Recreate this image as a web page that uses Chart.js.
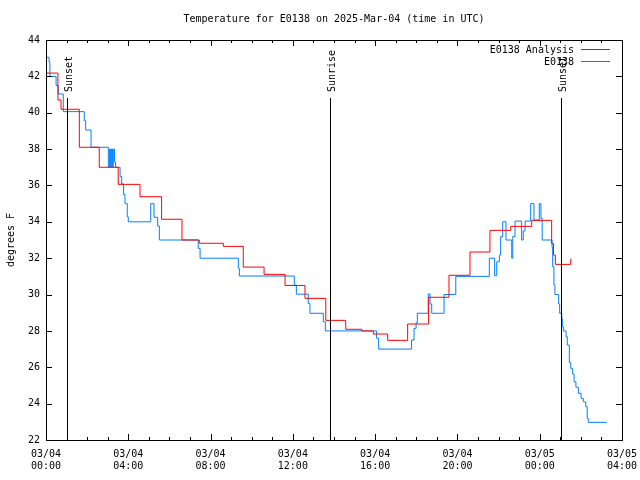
<!DOCTYPE html>
<html>
<head>
<meta charset="utf-8">
<script src="https://cdn.jsdelivr.net/npm/chart.js@4.4.1/dist/chart.umd.min.js"></script>
<style>
  body { margin: 0; background: #fff; }
  canvas { display: block; }
</style>
</head>
<body>
<canvas id="tempChart" width="640" height="480"></canvas>
<script>
// hours since 2025-03-04 00:00 UTC
const analysisHours = [0, 0.58, 0.73, 1.62, 2.59, 3.51, 4.57, 5.62, 6.61, 7.45, 8.62, 9.59, 10.60, 11.62, 12.59,
  13.60, 14.57, 15.35, 15.91, 16.61, 17.58, 18.60, 19.59, 20.61, 21.58, 22.59, 23.61, 24.58, 24.67, 24.76, 25.51, 25.55];
const analysisTemps = [42.18, 40.7, 40.19, 38.1, 37.0, 36.06, 35.38, 34.14, 33.0, 32.82, 32.65, 31.51, 31.11, 30.5, 29.79,
  28.58, 28.09, 28.0, 27.83, 27.48, 28.38, 29.85, 31.06, 32.34, 33.53, 33.75, 34.08, 32.8, 32.17, 31.66, 31.94, 31.94];

const obsHours = [0, 0.15, 0.19, 0.49, 0.60, 0.84, 1.86, 1.93, 2.19, 3.03, 3.09, 3.14, 3.18, 3.23, 3.27,
  3.33, 3.38, 3.60, 3.68, 3.77, 3.84, 3.95, 4.00, 5.09, 5.25, 5.43, 5.51, 7.40, 7.49, 9.35,
  9.40, 12.07, 12.17, 12.75, 12.83, 13.48, 13.58, 16.07, 16.17, 17.77, 17.89, 17.99, 18.05, 18.58, 18.67,
  18.75, 19.35, 19.92, 21.55, 21.81, 21.91, 22.04, 22.10, 22.20, 22.36, 22.64, 22.69, 22.80, 23.12, 23.20,
  23.29, 23.56, 23.72, 23.98, 24.06, 24.12, 24.60, 24.63, 24.69, 24.74, 24.92, 24.97, 25.07, 25.10, 25.15,
  25.28, 25.34, 25.44, 25.51, 25.60, 25.67, 25.76, 25.88, 26.01, 26.12, 26.24, 26.31, 26.36, 27.26];
const obsTemps = [43.05, 42.77, 42.0, 41.5, 41.03, 40.06, 39.56, 39.05, 38.1, 37.0, 38.0, 37.0, 38.0, 37.0, 38.0,
  37.3, 37.0, 36.5, 36.08, 35.5, 35.0, 34.28, 34.0, 35.0, 34.25, 33.77, 33.0, 32.54, 32.0, 31.44,
  31.02, 30.52, 30.02, 29.5, 28.97, 28.5, 28.0, 27.6, 27.0, 27.5, 28.14, 28.45, 28.97, 30.03, 29.48,
  28.97, 30.0, 31.0, 32.0, 31.04, 31.8, 32.17, 33.18, 34.0, 33.0, 32.0, 33.2, 34.04, 33.0, 33.5,
  34.04, 35.0, 34.1, 35.0, 34.19, 33.0, 32.6, 31.53, 30.52, 30.0, 29.48, 28.97, 28.69, 28.23, 28.0,
  27.68, 27.22, 26.25, 25.94, 25.63, 25.2, 24.9, 24.57, 24.29, 24.1, 23.83, 23.19, 22.97, 22.97];

const eventNames = ["Sunset", "Sunrise", "Sunset"];
const eventHours = [1.02, 13.8, 25.04];

const seriesNames = ["E0138 Analysis", "E0138"];
const seriesColors = ["#ff0000", "#0080ff"];

const FONT = "DejaVu Sans Mono";

function pts(xs, ys) {
  return xs.map((x, i) => ({ x: x, y: ys[i] }));
}

// frame, inward ticks, title, legend, sun lines - gnuplot look
const gnuplotBits = {
  id: "gnuplotBits",
  afterDraw(chart) {
    const ctx = chart.ctx;
    const a = chart.chartArea;
    const xs = chart.scales.x, ys = chart.scales.y;
    ctx.save();
    ctx.strokeStyle = "#000";
    ctx.fillStyle = "#000";
    ctx.lineWidth = 1;

    // ticks
    ctx.beginPath();
    for (let v = 22; v <= 44; v += 2) {
      const y = Math.round(ys.getPixelForValue(v)) + 0.5;
      ctx.moveTo(a.left, y); ctx.lineTo(a.left + 6, y);
      ctx.moveTo(a.right, y); ctx.lineTo(a.right - 6, y);
    }
    for (let h = 0; h <= 28; h++) {
      const x = Math.round(xs.getPixelForValue(h)) + 0.5;
      const len = h % 4 === 0 ? 6 : 3;
      ctx.moveTo(x, a.bottom); ctx.lineTo(x, a.bottom - len);
      ctx.moveTo(x, a.top); ctx.lineTo(x, a.top + len);
    }
    ctx.stroke();

    // frame
    ctx.strokeRect(a.left + 0.5, a.top + 0.5, a.right - a.left, a.bottom - a.top);

    // sunset / sunrise
    ctx.font = "10px '" + FONT + "'";
    eventHours.forEach((h, i) => {
      const x = Math.round(xs.getPixelForValue(h)) + 0.5;
      ctx.beginPath();
      ctx.moveTo(x, a.top + 58);
      ctx.lineTo(x, a.bottom);
      ctx.stroke();
      ctx.save();
      ctx.translate(x + 1.5, a.top + 52);
      ctx.rotate(-Math.PI / 2);
      ctx.textAlign = "left";
      ctx.textBaseline = "middle";
      ctx.fillText(eventNames[i], 0, 0);
      ctx.restore();
    });

    // title
    ctx.textAlign = "center";
    ctx.textBaseline = "middle";
    ctx.fillText("Temperature for E0138 on 2025-Mar-04 (time in UTC)", (a.left + a.right) / 2, 19);

    // y title
    ctx.save();
    ctx.translate(11, (a.top + a.bottom) / 2);
    ctx.rotate(-Math.PI / 2);
    ctx.fillText("degrees F", 0, 0);
    ctx.restore();

    // legend
    ctx.textAlign = "right";
    seriesNames.forEach((name, i) => {
      const y = 50 + i * 12;
      ctx.fillStyle = "#000";
      ctx.fillText(name, 574, y);
      ctx.strokeStyle = seriesColors[i];
      ctx.beginPath();
      ctx.moveTo(581, y - 0.5);
      ctx.lineTo(610, y - 0.5);
      ctx.stroke();
    });
    ctx.restore();
  }
};

const chart = new Chart(document.getElementById("tempChart"), {
  type: "line",
  data: {
    datasets: [
      {
        label: seriesNames[0],
        data: pts(analysisHours, analysisTemps),
        borderColor: seriesColors[0],
        borderWidth: 1,
        pointRadius: 0,
        stepped: true,
        fill: false,
      },
      {
        label: seriesNames[1],
        data: pts(obsHours, obsTemps),
        borderColor: seriesColors[1],
        borderWidth: 1,
        pointRadius: 0,
        stepped: true,
        fill: false,
      },
    ],
  },
  options: {
    responsive: false,
    animation: false,
    devicePixelRatio: 1,
    layout: { padding: { left: 0, top: 40, right: 18, bottom: 0 } },
    plugins: {
      legend: { display: false },
      title: { display: false },
      tooltip: { enabled: false },
    },
    scales: {
      x: {
        type: "linear",
        min: 0,
        max: 28,
        grid: { display: false, drawTicks: false },
        border: { display: false },
        afterFit: (s) => { s.height = 40; s.paddingLeft = 0; s.paddingRight = 0; },
        ticks: {
          stepSize: 4,
          padding: 8,
          maxRotation: 0,
          color: "#000",
          font: { family: FONT, size: 10, lineHeight: 1.25 },
          callback: (v) => {
            const day = 4 + Math.floor(v / 24);
            const hr = v % 24;
            return ["03/0" + day, String(hr).padStart(2, "0") + ":00"];
          },
        },
      },
      y: {
        min: 22,
        max: 44,
        grid: { display: false, drawTicks: false },
        border: { display: false },
        afterFit: (s) => { s.width = 46; s.paddingTop = 0; s.paddingBottom = 0; },
        ticks: {
          stepSize: 2,
          padding: 6,
          color: "#000",
          font: { family: FONT, size: 10 },
        },
      },
    },
  },
  plugins: [gnuplotBits],
});
</script>
</body>
</html>
